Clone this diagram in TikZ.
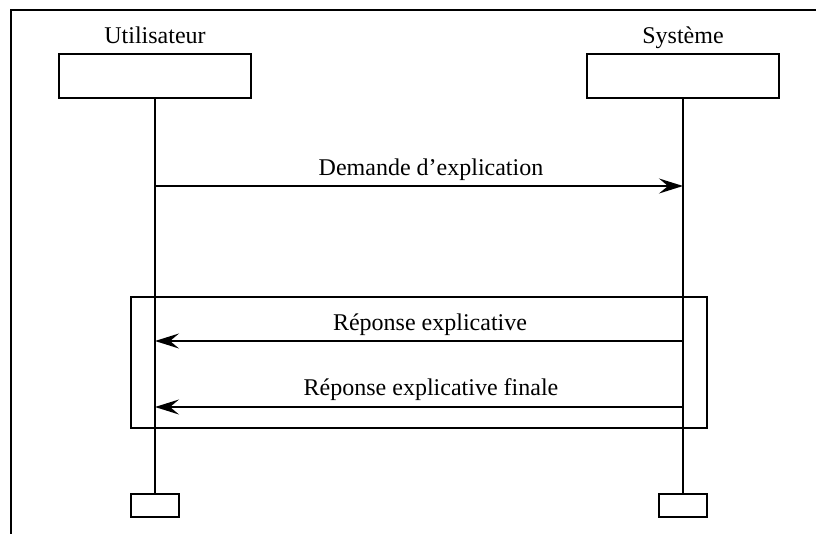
\documentclass[tikz,border=0pt]{standalone}
\usepackage{fontspec}
\setmainfont{Liberation Serif}
\usetikzlibrary{arrows.meta}
\begin{document}
\begin{tikzpicture}[x=1pt,y=-1pt,line width=1.6pt,
  headbox/.style={draw,minimum width=192pt,minimum height=44pt,inner sep=0pt},
  footbox/.style={draw,minimum width=48pt,minimum height=23pt,inner sep=0pt},
  lbl/.style={anchor=base,inner sep=0pt,font=\fontsize{24}{28}\selectfont},
  msg/.style={-{Stealth[length=24pt,width=15pt,inset=9pt]}}]
\useasboundingbox (0,0) rectangle (816,533);
% outer frame
\coordinate (fbl) at (11,540);
\coordinate (ftl) at (11,10);
\coordinate (ftr) at (820,10);
\draw (fbl) -- (ftl) -- (ftr);
% participants
\node[lbl] (uname) at (155,43) {Utilisateur};
\node[lbl] (sname) at (683,43) {Système};
\node[headbox] (uhead) at (155,76) {};
\node[headbox] (shead) at (683,76) {};
\node[footbox] (ufoot) at (155,505.5) {};
\node[footbox] (sfoot) at (683,505.5) {};
% lifelines
\draw (uhead.south) -- (ufoot.north);
\draw (shead.south) -- (sfoot.north);
% message anchors on the lifelines
\coordinate (u1) at (155,186);
\coordinate (s1) at (683,186);
\coordinate (u2) at (155,341);
\coordinate (s2) at (683,341);
\coordinate (u3) at (155,407);
\coordinate (s3) at (683,407);
% combined fragment
\coordinate (fragnw) at (131,297);
\coordinate (fragse) at (707,428);
\draw (fragnw) rectangle (fragse);
% messages
\draw[msg] (u1) -- (s1);
\node[lbl] (m1) at (431,175) {Demande d’explication};
\draw[msg] (s2) -- (u2);
\node[lbl] (m2) at (430,330) {Réponse explicative};
\draw[msg] (s3) -- (u3);
\node[lbl] (m3) at (431,395) {Réponse explicative finale};
\end{tikzpicture}
\end{document}
